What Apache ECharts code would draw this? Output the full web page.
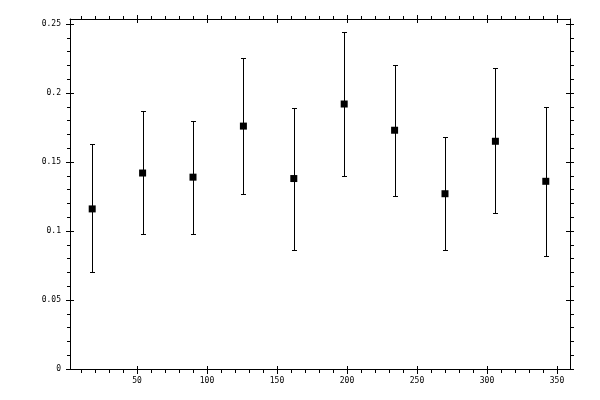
<!DOCTYPE html>
<html>
<head>
<meta charset="utf-8">
<script src="https://cdn.jsdelivr.net/npm/echarts@6/dist/echarts.min.js"></script>
<style>
html,body{margin:0;padding:0;background:#fff;}
#chart{width:600px;height:400px;}
</style>
</head>
<body>
<div id="chart"></div>
<script>
// ---- data ----
var xValues = [18, 54, 90, 126, 162, 198, 234, 270, 306, 342];
var meanValues = [0.116, 0.142, 0.139, 0.176, 0.138, 0.192, 0.173, 0.127, 0.165, 0.136];
var upperValues = [0.163, 0.187, 0.180, 0.225, 0.189, 0.244, 0.220, 0.168, 0.218, 0.190];
var lowerValues = [0.070, 0.098, 0.098, 0.127, 0.086, 0.140, 0.125, 0.086, 0.113, 0.082];
var xMajorTicks = [50, 100, 150, 200, 250, 300, 350];
var xMinorTicks = [10, 20, 30, 40, 60, 70, 80, 90, 110, 120, 130, 140, 160, 170, 180, 190, 210, 220, 230, 240, 260, 270, 280, 290, 310, 320, 330, 340];
var yMajorTicks = [0, 0.05, 0.1, 0.15, 0.2, 0.25];
var yMinorTicks = [0.01, 0.02, 0.03, 0.04, 0.06, 0.07, 0.08, 0.09, 0.11, 0.12, 0.13, 0.14, 0.16, 0.17, 0.18, 0.19, 0.21, 0.22, 0.23, 0.24];

var X_MIN = 2.14, X_MAX = 359.29, Y_MIN = 0, Y_MAX = 0.2536;
var FONT = 'DejaVu Sans Mono';

var chart = echarts.init(document.getElementById('chart'), null, {renderer: 'canvas'});

var gridBox = {left: 70, right: 30, top: 19, bottom: 31, outerBoundsMode: 'none', containLabel: false};

function xAxisDef(gridIndex, position, ticks, inside, len, showLine, showLabel) {
  return {
    type: 'value', gridIndex: gridIndex, position: position,
    min: X_MIN, max: X_MAX,
    axisLine: {show: showLine, onZero: false, lineStyle: {color: '#000', width: 1}},
    axisTick: {show: true, inside: inside, length: len, customValues: ticks, lineStyle: {color: '#000', width: 1}},
    axisLabel: {show: showLabel, customValues: ticks, margin: 8, color: '#000', fontFamily: FONT, fontSize: 8},
    splitLine: {show: false}
  };
}
function yAxisDef(gridIndex, position, ticks, inside, len, showLine, showLabel) {
  return {
    type: 'value', gridIndex: gridIndex, position: position,
    min: Y_MIN, max: Y_MAX,
    axisLine: {show: showLine, onZero: false, lineStyle: {color: '#000', width: 1}},
    axisTick: {show: true, inside: inside, length: len, customValues: ticks, lineStyle: {color: '#000', width: 1}},
    axisLabel: {show: showLabel, customValues: ticks, margin: 9, color: '#000', fontFamily: FONT, fontSize: 8},
    splitLine: {show: false}
  };
}

var errData = xValues.map(function (x, i) { return [x, lowerValues[i], upperValues[i]]; });
var ptData = xValues.map(function (x, i) { return [x, meanValues[i]]; });

var option = {
  backgroundColor: '#fff',
  animation: false,
  grid: [Object.assign({}, gridBox), Object.assign({}, gridBox), Object.assign({}, gridBox)],
  xAxis: [
    xAxisDef(0, 'bottom', xMajorTicks, false, 5, true, true),
    xAxisDef(0, 'top', xMajorTicks, false, 4, true, false),
    xAxisDef(1, 'bottom', xMajorTicks, true, 3, false, false),
    xAxisDef(1, 'top', xMajorTicks, true, 4, false, false),
    xAxisDef(2, 'bottom', xMinorTicks, false, 4, false, false),
    xAxisDef(2, 'top', xMinorTicks, false, 3, false, false)
  ],
  yAxis: [
    yAxisDef(0, 'left', yMajorTicks, false, 4, true, true),
    yAxisDef(0, 'right', yMajorTicks, false, 4, true, false),
    yAxisDef(1, 'left', yMajorTicks, true, 4, false, false),
    yAxisDef(1, 'right', yMajorTicks, true, 4, false, false),
    yAxisDef(2, 'left', yMinorTicks, false, 3, false, false),
    yAxisDef(2, 'right', yMinorTicks, false, 4, false, false)
  ],
  series: [
    {
      type: 'custom',
      xAxisIndex: 0, yAxisIndex: 0,
      data: errData,
      z: 2,
      renderItem: function (params, api) {
        var x = api.value(0);
        var pLo = api.coord([x, api.value(1)]);
        var pHi = api.coord([x, api.value(2)]);
        var cx = Math.round(pLo[0]) + 0.5;
        var yLo = Math.round(pLo[1]) + 0.5;
        var yHi = Math.round(pHi[1]) + 0.5;
        var hw = 2.5;
        var st = {stroke: '#000', lineWidth: 1};
        return {
          type: 'group',
          children: [
            {type: 'line', shape: {x1: cx, y1: yHi, x2: cx, y2: yLo}, style: st},
            {type: 'line', shape: {x1: cx - hw, y1: yHi, x2: cx + hw, y2: yHi}, style: st},
            {type: 'line', shape: {x1: cx - hw, y1: yLo, x2: cx + hw, y2: yLo}, style: st}
          ]
        };
      }
    },
    {
      type: 'scatter',
      xAxisIndex: 0, yAxisIndex: 0,
      data: ptData,
      symbol: 'rect',
      symbolSize: 7,
      itemStyle: {color: '#000', opacity: 1},
      z: 3
    }
  ]
};
chart.setOption(option);
</script>
</body>
</html>
